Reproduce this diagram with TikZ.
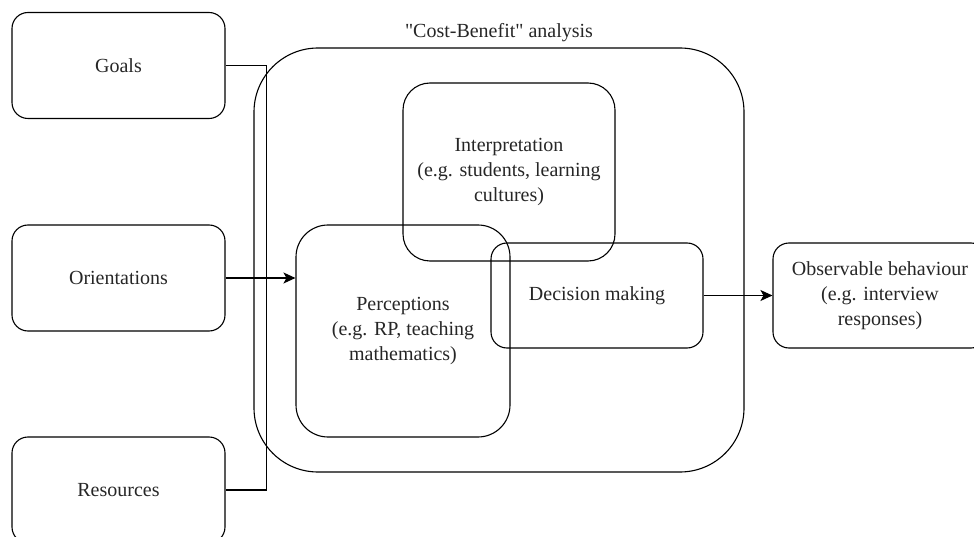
\documentclass[tikz,border=0pt]{standalone}
\usepackage{fontspec}
\setmainfont{Liberation Serif}
\newfontfamily\serifbox{Liberation Serif}
\usetikzlibrary{positioning, arrows.meta, calc}

\begin{document}
\begin{tikzpicture}[x=1pt, y=-1pt, line width=1.1pt,
    every node/.style={font=\serifbox\fontsize{20}{25}\selectfont, text=black!85, align=center, inner sep=0pt},
    box/.style={draw, rounded corners=16pt, minimum width=213pt, minimum height=106pt},
    arr/.style={-{Stealth[length=12pt, width=11pt, inset=3pt]}}]
    \clip (0,0) rectangle (974,537);
    % inputs on the left
    \node[box] (goals) at (118.5,65.5) {Goals};
    \node[box] (orient) at (118.5,278) {Orientations};
    \node[box] (resrc) at (118.5,490) {Resources};

    % cost-benefit analysis
    \node[box, rounded corners=64pt, minimum width=490pt, minimum height=424pt] (cba) at (499,260) {};
    \node (cbalabel) at (499,33) {\symbol{34}Cost-Benefit\symbol{34} analysis};
    \node[box, rounded corners=27pt, minimum width=212pt, minimum height=178pt] (interp) at (509,172)
        {Interpretation\\(e.g. students, learning\\cultures)};
    \node[box, rounded corners=32pt, minimum width=214pt, minimum height=212pt] (percep) at (403,331)
        {Perceptions\\(e.g. RP, teaching\\mathematics)};
    \node[box, minimum width=212pt, minimum height=105pt] (decide) at (597,295.5) {Decision making};
    \node[box, minimum width=214pt, minimum height=105pt] (observ) at (880,295.5)
        {Observable behaviour\\(e.g. interview\\responses)};

    % connectors
    \coordinate (bus) at (266.5,0);
    \draw (goals.east) -- (goals.east -| bus) -- (resrc.east -| bus) -- (resrc.east);
    \draw[arr] (orient.east) -- (orient.east -| percep.west);
    \draw[arr] (decide.east) -- (observ.west);
\end{tikzpicture}
\end{document}
